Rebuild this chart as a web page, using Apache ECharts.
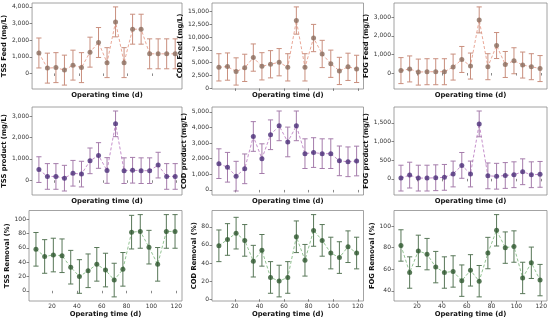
<!DOCTYPE html>
<html><head><meta charset="utf-8">
<script src="https://cdn.jsdelivr.net/npm/echarts@6/dist/echarts.min.js"></script>
<style>html,body{margin:0;padding:0;background:#fff}#c{width:550px;height:320px}</style>
</head><body><div id="c"></div>
<script>
// ---- data ----
const days = [7,14,21,28,35,42,49,56,63,70,77,84,91,98,105,112,119];
const xTicks = [20,40,60,80,100,120];

const tssFeed    = [1230,320,350,200,500,350,1280,1860,650,3100,650,2660,2660,1180,1180,1180,1180];
const tssFeedErr = [900,900,900,900,900,900,900,900,900,900,900,900,900,900,900,900,900];
const tssFeedTicks = [0,1000,2000,3000,4000];

const codFeed    = [4100,4250,3300,4000,6000,4300,4700,5100,4100,13200,4100,9800,6700,4800,3400,4200,3800];
const codFeedErr = [2650,2650,2650,2650,2650,2650,2650,2650,2650,2650,2650,2650,2650,2650,2650,2650,2650];
const codFeedTicks = [0,2500,5000,7500,10000,12500,15000];

const fogFeed    = [130,220,50,70,70,70,320,730,375,2860,340,1480,460,660,430,340,240];
const fogFeedErr = [700,700,700,700,700,700,700,700,700,700,700,700,700,700,700,700,700];
const fogFeedTicks = [0,1000,2000,3000];

const tssProd    = [500,180,180,100,330,290,910,1160,460,2640,450,470,450,450,710,180,180];
const tssProdErr = [600,600,600,600,600,600,600,600,600,600,600,600,600,600,600,600,600];
const tssProdTicks = [0,1000,2000,3000];

const codProd    = [1680,1450,880,1350,3420,2000,3530,4100,3070,4100,2320,2390,2320,2320,1860,1800,1850];
const codProdErr = [950,950,950,950,950,950,950,950,950,950,950,950,950,950,950,950,950];
const codProdTicks = [0,1000,2000,3000,4000,5000];

const fogProd    = [20,100,20,20,30,40,130,360,130,1470,80,70,90,110,190,110,120];
const fogProdErr = [345,345,345,345,345,345,345,345,345,345,345,345,345,345,345,345,345];
const fogProdTicks = [0,500,1000,1500];

const tssRem    = [58,48,50,49,33,20,28,37,29,15,30,82,83,61,37,83,83];
const tssRemErr = [23.5,23.5,23.5,23.5,23.5,23.5,23.5,23.5,23.5,23.5,23.5,23.5,23.5,23.5,23.5,23.5,23.5];
const tssRemTicks = [0,20,40,60,80,100];

const codRem    = [59,66,73,65,42,54,24,20,24,69,43,76,65,51,46,58,51];
const codRemErr = [17.5,17.5,17.5,17.5,17.5,17.5,17.5,17.5,17.5,17.5,17.5,17.5,17.5,17.5,17.5,17.5,17.5];
const codRemTicks = [0,20,40,60,80];

const fogRem    = [82,57,77,74,62,57,58,49.5,59,49,75,96,80,81,52,66,50];
const fogRemErr = [14.5,14.5,14.5,14.5,14.5,14.5,14.5,14.5,14.5,14.5,14.5,14.5,14.5,14.5,14.5,14.5,14.5];
const fogRemTicks = [40,60,80,100];

const xName = 'Operating time (d)';

// ---- layout / style ----
const colLeft = [29, 212, 394], colWidth = [153, 151.5, 153];
const rowTop = [3, 107, 210.5], rowHeight = [86, 88, 90.5];
const rowStyle = [
  {marker:'#8a6c5c', err:'#c98f7e', line:'#eaa898'},
  {marker:'#4a2d78', err:'#a57cab', line:'#c690cc'},
  {marker:'#2e582e', err:'#587758', line:'#93c493'}
];
const panels = [
  {name:'TSS Feed (mg/L)', v:tssFeed, e:tssFeedErr, t:tssFeedTicks, r:0, c:0, gap:20},
  {name:'COD Feed (mg/L)', v:codFeed, e:codFeedErr, t:codFeedTicks, r:0, c:1, gap:26},
  {name:'FOG Feed (mg/L)', v:fogFeed, e:fogFeedErr, t:fogFeedTicks, r:0, c:2, gap:21},
  {name:'TSS product (mg/L)', v:tssProd, e:tssProdErr, t:tssProdTicks, r:1, c:0, gap:19},
  {name:'COD product (mg/L)', v:codProd, e:codProdErr, t:codProdTicks, r:1, c:1, gap:23.5},
  {name:'FOG product (mg/L)', v:fogProd, e:fogProdErr, t:fogProdTicks, r:1, c:2, gap:20.5},
  {name:'TSS Removal (%)', v:tssRem, e:tssRemErr, t:tssRemTicks, r:2, c:0, gap:15.5},
  {name:'COD Removal (%)', v:codRem, e:codRemErr, t:codRemTicks, r:2, c:1, gap:13.5},
  {name:'FOG Removal (%)', v:fogRem, e:fogRemErr, t:fogRemTicks, r:2, c:2, gap:15}
];

const fmt = v => Number(v).toLocaleString('en-US');
const xlo = days[0], xhi = days[days.length-1], xm = (xhi - xlo) * 0.05;

const grid = [], xAxis = [], yAxis = [], series = [];
panels.forEach((p, i) => {
  const lows = p.v.map((v,k) => v - p.e[k]);
  const highs = p.v.map((v,k) => v + p.e[k]);
  const dmin = Math.min(...lows), dmax = Math.max(...highs), m = (dmax - dmin) * 0.05;
  grid.push({left: colLeft[p.c], top: rowTop[p.r], width: colWidth[p.c], height: rowHeight[p.r],
    show: true, borderColor: '#8c8c8c', borderWidth: 0.8, backgroundColor: 'transparent'});
  const last = p.r === 2;
  xAxis.push({type:'value', gridIndex:i, min: xlo - xm, max: xhi + xm,
    name: xName, nameLocation:'middle', nameGap: last ? 9.5 : 2.5,
    nameTextStyle:{fontSize:6.8, fontWeight:'bold', color:'#111', fontFamily:'DejaVu Sans', verticalAlign:'top'},
    axisLine:{show:false}, splitLine:{show:false},
    axisTick:{show:true, length:2.5, lineStyle:{color:'#555', width:0.7}, customValues: xTicks},
    axisLabel:{show: last, fontSize:6, color:'#333', margin:2.5, fontFamily:'DejaVu Sans', customValues: xTicks}
  });
  yAxis.push({type:'value', gridIndex:i, min: dmin - m, max: dmax + m,
    name: p.name, nameLocation:'middle', nameGap: p.gap, nameRotate: 90,
    nameTextStyle:{fontSize:6.8, fontWeight:'bold', color:'#111', fontFamily:'DejaVu Sans'},
    axisLine:{show:false}, splitLine:{show:false},
    axisTick:{show:true, length:2.5, lineStyle:{color:'#555', width:0.7}, customValues: p.t},
    axisLabel:{fontSize:6, color:'#333', margin:3, fontFamily:'DejaVu Sans', formatter: fmt, customValues: p.t}
  });
  const st = rowStyle[p.r];
  series.push({type:'line', xAxisIndex:i, yAxisIndex:i, data: days.map((d,k)=>[d,p.v[k]]),
    showSymbol:false, z:1, silent:true,
    lineStyle:{color: st.line, width:1, type:[3,2]}});
  series.push({type:'custom', xAxisIndex:i, yAxisIndex:i, z:2, silent:true,
    data: days.map((d,k)=>[d, lows[k], highs[k]]),
    renderItem: function(params, api){
      const x = api.value(0);
      const a = api.coord([x, api.value(2)]), b = api.coord([x, api.value(1)]);
      const w = 2.6, s = {stroke: st.err, lineWidth: 1};
      return {type:'group', children:[
        {type:'line', shape:{x1:a[0], y1:a[1], x2:b[0], y2:b[1]}, style:s},
        {type:'line', shape:{x1:a[0]-w, y1:a[1], x2:a[0]+w, y2:a[1]}, style:s},
        {type:'line', shape:{x1:b[0]-w, y1:b[1], x2:b[0]+w, y2:b[1]}, style:s}
      ]};
    }});
  series.push({type:'scatter', xAxisIndex:i, yAxisIndex:i, z:3, silent:true,
    data: days.map((d,k)=>[d,p.v[k]]), symbol:'circle', symbolSize:5,
    itemStyle:{color: st.marker}});
});

const chart = echarts.init(document.getElementById('c'), null, {renderer:'canvas'});
chart.setOption({animation:false, backgroundColor:'#fff', grid, xAxis, yAxis, series});
</script></body></html>
